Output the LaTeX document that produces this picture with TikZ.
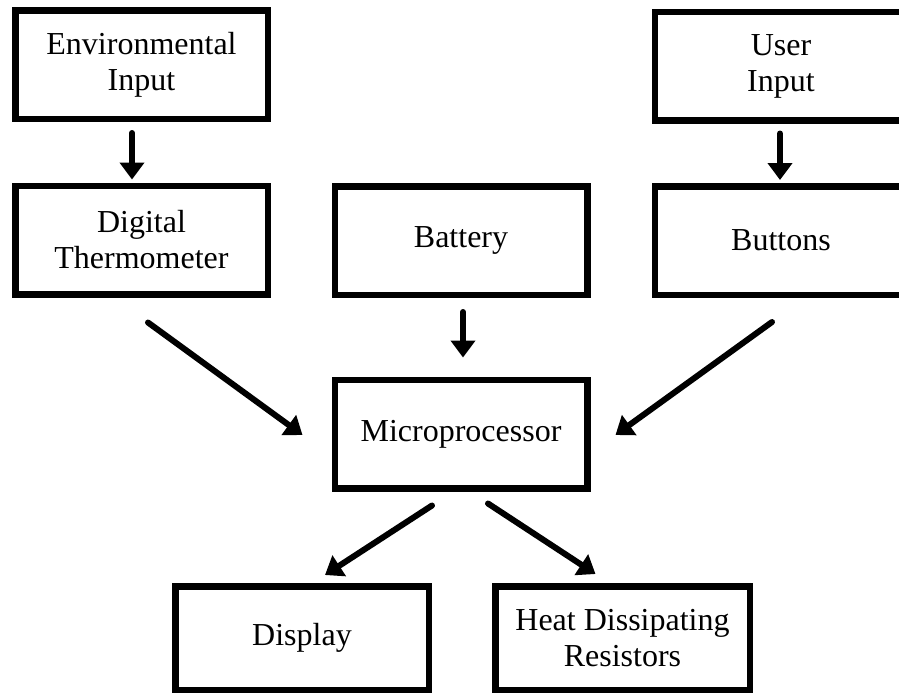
\documentclass[tikz,border=0pt]{standalone}
\usepackage{fontspec}
\setmainfont{Liberation Serif}
\usetikzlibrary{arrows.meta,calc}
\begin{document}
\begin{tikzpicture}[x=1pt,y=-1pt,
  box/.style={draw=black, line width=6.5pt, fill=white, align=center, inner sep=0pt,
    minimum width=252.5pt, minimum height=108.5pt, font=\fontsize{32}{36}\selectfont},
  arr/.style={line width=6pt, line cap=round, -{Triangle[width=24pt,length=17pt]}}]
\fill[white] (0,0) rectangle (899,694);
\useasboundingbox (0,0) rectangle (899,694);
\clip (0,0) rectangle (899,694);
% nodes
\node[box] (env) at (141.5,64.5) {Environmental\\Input};
\node[box] (user) at (781,66) {User\\Input};
\node[box] (dt) at (141.5,240) {Digital\\Thermometer};
\node[box] (bat) at (461,240.5) {Battery};
\node[box] (btn) at (781,240.5) {Buttons};
\node[box] (mic) at (461,434) {Microprocessor};
\node[box, minimum width=253.5pt, minimum height=103.5pt] (disp) at (302,638) {Display};
\node[box, minimum width=254.5pt, minimum height=103.5pt] (heat) at (622.5,638) {Heat Dissipating\\Resistors};
% connectors
\draw[arr] ($(env.south)+(-9.5,11)$) -- ($(dt.north)+(-9.5,-3)$);
\draw[arr] ($(user.south)+(-1,10)$) -- ($(btn.north)+(-1,-3)$);
\draw[arr] ($(bat.south)+(2,14)$) -- ($(mic.north)+(2,-19)$);
\draw[arr] ($(dt.south)+(6.5,25)$) -- ($(mic.west)+(-29,1)$);
\draw[arr] ($(btn.south)+(-9,24)$) -- ($(mic.east)+(25,1)$);
\draw[arr] ($(mic.south)+(-29,14)$) -- ($(disp.north)+(23,-8)$);
\draw[arr] ($(mic.south)+(27,12)$) -- ($(heat.north)+(-27,-9)$);
\end{tikzpicture}
\end{document}
